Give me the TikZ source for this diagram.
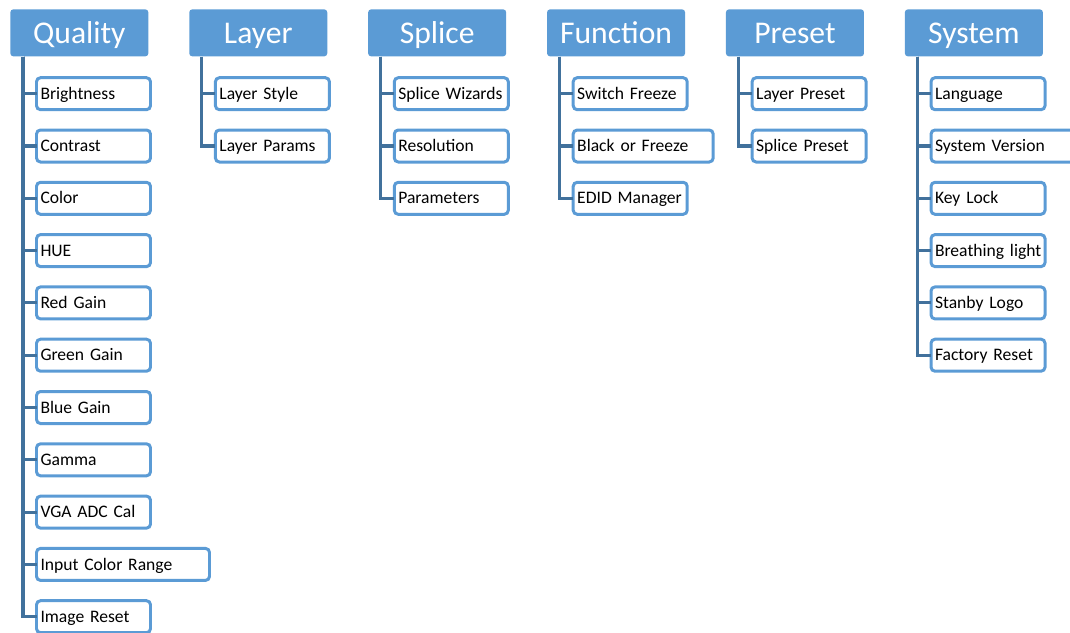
\documentclass[tikz,border=0pt]{standalone}
\usepackage{fontspec}
\setmainfont{Carlito}
\usepackage{xcolor}
\usetikzlibrary{positioning}
\definecolor{menublue}{HTML}{5B9BD5}
\definecolor{linkblue}{HTML}{41719C}

\begin{document}
\begin{tikzpicture}[
    node distance=0.386cm and 0.804cm,
    header/.style={rectangle, fill=menublue, text=white, font=\fontsize{18}{20}\selectfont, minimum width=2.76cm, minimum height=0.94cm, text height=11.6pt, text depth=0pt, rounded corners=0.06cm, inner sep=0pt},
    item/.style={rectangle, draw=menublue, line width=1.7pt, fill=white, font=\fontsize{10}{12}\selectfont, text width=#1, align=left, inner xsep=0.08cm, minimum height=0.64cm, text height=6.4pt, text depth=0pt, outer sep=0pt, rounded corners=0.08cm},
    item/.default=2.12cm,
    branch/.style={draw=linkblue, line width=1.8pt}
]
\useasboundingbox (0,0) rectangle (21.4,-12.64);

% Menu headers
\node[header, anchor=north west] (quality) at (0.2,-0.18) {Quality};
\node[header, right=of quality] (layer) {Layer};
\node[header, right=of layer] (splice) {Splice};
\node[header, right=of splice] (function) {Function};
\node[header, right=of function] (preset) {Preset};
\node[header, right=of preset] (system) {System};

% Quality items
\node[item, below right=0.42cm and 0.53cm of quality.south west] (q1) {Brightness};
\node[item, below=0.406cm of q1.south west, anchor=north west] (q2) {Contrast};
\node[item, below=0.406cm of q2.south west, anchor=north west] (q3) {Color};
\node[item, below=0.406cm of q3.south west, anchor=north west] (q4) {HUE};
\node[item, below=0.406cm of q4.south west, anchor=north west] (q5) {Red Gain};
\node[item, below=0.406cm of q5.south west, anchor=north west] (q6) {Green Gain};
\node[item, below=0.406cm of q6.south west, anchor=north west] (q7) {Blue Gain};
\node[item, below=0.406cm of q7.south west, anchor=north west] (q8) {Gamma};
\node[item, below=0.406cm of q8.south west, anchor=north west] (q9) {VGA ADC Cal};
\node[item=3.3cm, below=0.406cm of q9.south west, anchor=north west] (q10) {Input Color Range};
\node[item, below=0.406cm of q10.south west, anchor=north west] (q11) {Image Reset};

% Layer items
\node[item, below right=0.42cm and 0.53cm of layer.south west] (l1) {Layer Style};
\node[item, below=0.406cm of l1.south west, anchor=north west] (l2) {Layer Params};

% Splice items
\node[item, below right=0.42cm and 0.53cm of splice.south west] (s1) {Splice Wizards};
\node[item, below=0.406cm of s1.south west, anchor=north west] (s2) {Resolution};
\node[item, below=0.406cm of s2.south west, anchor=north west] (s3) {Parameters};

% Function items
\node[item, below right=0.42cm and 0.53cm of function.south west] (f1) {Switch Freeze};
\node[item=2.64cm, below=0.406cm of f1.south west, anchor=north west] (f2) {Black or Freeze};
\node[item, below=0.406cm of f2.south west, anchor=north west] (f3) {EDID Manager};

% Preset items
\node[item, below right=0.42cm and 0.53cm of preset.south west] (p1) {Layer Preset};
\node[item, below=0.406cm of p1.south west, anchor=north west] (p2) {Splice Preset};

% System items
\node[item, below right=0.42cm and 0.53cm of system.south west] (y1) {Language};
\node[item=3.0cm, below=0.406cm of y1.south west, anchor=north west] (y2) {System Version};
\node[item, below=0.406cm of y2.south west, anchor=north west] (y3) {Key Lock};
\node[item, below=0.406cm of y3.south west, anchor=north west] (y4) {Breathing~light};
\node[item, below=0.406cm of y4.south west, anchor=north west] (y5) {Stanby Logo};
\node[item, below=0.406cm of y5.south west, anchor=north west] (y6) {Factory Reset};

% Tree lines
\draw[branch] ([xshift=0.26cm]quality.south west) |- (q1.west);
\draw[branch] ([xshift=0.26cm]quality.south west) |- (q2.west);
\draw[branch] ([xshift=0.26cm]quality.south west) |- (q3.west);
\draw[branch] ([xshift=0.26cm]quality.south west) |- (q4.west);
\draw[branch] ([xshift=0.26cm]quality.south west) |- (q5.west);
\draw[branch] ([xshift=0.26cm]quality.south west) |- (q6.west);
\draw[branch] ([xshift=0.26cm]quality.south west) |- (q7.west);
\draw[branch] ([xshift=0.26cm]quality.south west) |- (q8.west);
\draw[branch] ([xshift=0.26cm]quality.south west) |- (q9.west);
\draw[branch] ([xshift=0.26cm]quality.south west) |- (q10.west);
\draw[branch] ([xshift=0.26cm]quality.south west) |- (q11.west);
\draw[branch] ([xshift=0.26cm]layer.south west) |- (l1.west);
\draw[branch] ([xshift=0.26cm]layer.south west) |- (l2.west);
\draw[branch] ([xshift=0.26cm]splice.south west) |- (s1.west);
\draw[branch] ([xshift=0.26cm]splice.south west) |- (s2.west);
\draw[branch] ([xshift=0.26cm]splice.south west) |- (s3.west);
\draw[branch] ([xshift=0.26cm]function.south west) |- (f1.west);
\draw[branch] ([xshift=0.26cm]function.south west) |- (f2.west);
\draw[branch] ([xshift=0.26cm]function.south west) |- (f3.west);
\draw[branch] ([xshift=0.26cm]preset.south west) |- (p1.west);
\draw[branch] ([xshift=0.26cm]preset.south west) |- (p2.west);
\draw[branch] ([xshift=0.26cm]system.south west) |- (y1.west);
\draw[branch] ([xshift=0.26cm]system.south west) |- (y2.west);
\draw[branch] ([xshift=0.26cm]system.south west) |- (y3.west);
\draw[branch] ([xshift=0.26cm]system.south west) |- (y4.west);
\draw[branch] ([xshift=0.26cm]system.south west) |- (y5.west);
\draw[branch] ([xshift=0.26cm]system.south west) |- (y6.west);

\end{tikzpicture}
\end{document}
